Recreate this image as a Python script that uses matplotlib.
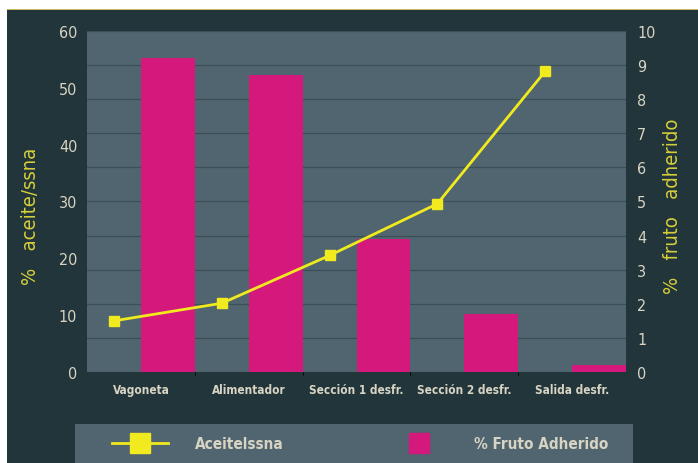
import matplotlib
matplotlib.use("Agg")
import matplotlib.pyplot as plt
from matplotlib.lines import Line2D
from matplotlib.patches import Rectangle

# data
categorias = ["Vagoneta", "Alimentador", "Sección 1 desfr.", "Sección 2 desfr.", "Salida desfr."]
aceite_ssna = [9.0, 12.1, 20.5, 29.6, 52.9]       # left axis, line
fruto_adherido = [9.2, 8.7, 3.9, 1.7, 0.2]        # right axis, bars
ticks_izq = [0, 10, 20, 30, 40, 50, 60]
ticks_der = list(range(0, 11))

fondo = "#21353a"
gris = "#50656f"
rejilla = "#3c4e57"
magenta = "#d4187c"
amarillo = "#f0ea1e"
txt = "#d8d4c4"
txt_am = "#d6ce3a"

plt.rcParams["font.family"] = ["DejaVu Sans"]
plt.rcParams["font.stretch"] = "condensed"

fig = plt.figure(figsize=(6.98, 4.64), dpi=100, facecolor=fondo)
# white paper margin on the top and left, thin yellow rule on top of the panel
fig.patches.append(Rectangle((0, 0), 7 / 698, 1, transform=fig.transFigure,
                             facecolor="white", edgecolor="none", zorder=-9))
fig.patches.append(Rectangle((0, 454 / 464), 1, 10 / 464, transform=fig.transFigure,
                             facecolor="white", edgecolor="none", zorder=-9))
fig.patches.append(Rectangle((7 / 698, 453 / 464), 1, 1.5 / 464, transform=fig.transFigure,
                             facecolor="#c8b860", edgecolor="none", zorder=-8))

ax = fig.add_axes([87 / 698, 91 / 464, 539 / 698, 341 / 464])
ax2 = ax.twinx()

x = list(range(len(categorias)))

# bars on the right-hand axis, drawn underneath the line
ax2.set_zorder(1)
ax.set_zorder(2)
ax.patch.set_visible(False)
ax2.patch.set_visible(True)
ax2.patch.set_facecolor(gris)
ax2.bar(x, fruto_adherido, width=0.5, align="edge", color=magenta, zorder=3)
ax2.set_ylim(0, 10)
ax2.set_yticks(ticks_der)
ax2.set_xticks([i + 0.5 for i in x[:-1]], minor=True)
ax2.grid(True, which="major", axis="y", color=rejilla, lw=0.9)
ax2.grid(True, which="minor", axis="x", color=rejilla, lw=0.9)
ax2.set_axisbelow(True)

ax.plot([i - 0.25 for i in x], aceite_ssna, color=amarillo, lw=2,
        marker="s", markersize=7, markerfacecolor=amarillo, markeredgecolor=amarillo)
ax.set_ylim(0, 60)
ax.set_yticks(ticks_izq)
ax.set_xlim(-0.5, 4.5)
ax.set_xticks(x)
ax.set_xticklabels(categorias)

for a in (ax, ax2):
    for s in a.spines.values():
        s.set_visible(False)
    a.tick_params(length=0, colors=txt, labelsize=11.5)
ax.tick_params(axis="y", pad=7)
ax2.tick_params(axis="y", pad=8)
ax.tick_params(axis="x", labelsize=8.5, pad=8)
for t in ax.get_xticklabels():
    t.set_fontweight("bold")

ax.set_ylabel("%   aceite/ssna", color=txt_am, fontsize=14.5)
ax.yaxis.set_label_coords(-0.087, 0.46)
ax2.set_ylabel("%   fruto   adherido", color=txt_am, fontsize=14.5, rotation=90)
ax2.yaxis.set_label_coords(1.069, 0.49)

# legend strip
lax = fig.add_axes([75 / 698, -0.02, 558 / 698, 48 / 464])
lax.set_facecolor(gris)
lax.set_xticks([])
lax.set_yticks([])
for s in lax.spines.values():
    s.set_visible(False)
h1 = Line2D([], [], color=amarillo, lw=2, marker="s", markersize=14)
h2 = Line2D([], [], color=magenta, ls="none", marker="s", markersize=14)
leg = lax.legend([h1, h2], ["Aceitelssna", "% Fruto Adherido"], ncol=2, frameon=False,
                 loc="center left", bbox_to_anchor=(0.041, 0.6), handlelength=3.66,
                 handletextpad=1.8, columnspacing=7.0, fontsize=11)
for t in leg.get_texts():
    t.set_color(txt)
    t.set_fontweight("bold")

fig.savefig("out.png", dpi=100, facecolor=fig.get_facecolor())
